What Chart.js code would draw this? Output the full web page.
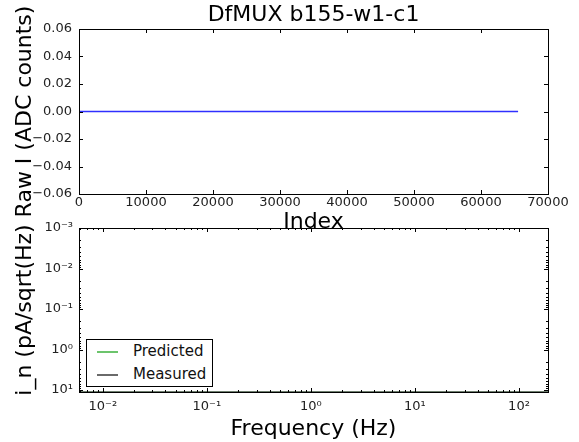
<!DOCTYPE html>
<html>
<head>
<meta charset="utf-8">
<script src="https://cdn.jsdelivr.net/npm/chart.js@4.4.0/dist/chart.umd.min.js"></script>
<style>
  body { margin: 0; background: #fff; }
  #wrap { position: relative; width: 579px; height: 442px; overflow: hidden; font-family: "DejaVu Sans", sans-serif; }
  #top { position: absolute; left: 0; top: 0; }
  #bot { position: absolute; left: 0; top: 212px; }
  #legend { position: absolute; left: 86px; top: 339px; width: 125px; height: 46px; border: 1px solid #000; background: #fff; font-size: 15px; color: #111; }
  #legend .row { position: absolute; left: 0; height: 18px; }
  #legend .sw { position: absolute; left: 10px; top: 9px; width: 21px; height: 0; border-top: 2px solid; }
  #legend .lb { position: absolute; left: 46px; top: 0; white-space: nowrap; line-height: 18px; }
</style>
</head>
<body>
<div id="wrap">
  <canvas id="top" width="579" height="237"></canvas>
  <canvas id="bot" width="579" height="230"></canvas>
  <div id="legend">
    <div class="row" style="top:2px"><span class="sw" style="border-color:#6cc46c"></span><span class="lb">Predicted</span></div>
    <div class="row" style="top:25px"><span class="sw" style="border-color:#6a6a6a"></span><span class="lb">Measured</span></div>
  </div>
</div>
<script>
// ---- data: top panel (raw timestream) ----
const rawIndex = [0, 65535];
const rawCounts = [0, 0];
const rawXTicks = [0, 10000, 20000, 30000, 40000, 50000, 60000, 70000];
const rawYTicks = [-0.06, -0.04, -0.02, 0.0, 0.02, 0.04, 0.06];

// ---- data: bottom panel (noise spectrum) ----
const freqHz = [0.0059, 190];
const predicted = [11.2, 11.2];
const measured = [11.2, 11.2];
const freqTicks = [0.01, 0.1, 1, 10, 100];
const freqTickLabels = ["10\u207B\u00B2", "10\u207B\u00B9", "10\u2070", "10\u00B9", "10\u00B2"];
const noiseTicks = [0.001, 0.01, 0.1, 1, 10];
const noiseTickLabels = ["10\u207B\u00B3", "10\u207B\u00B2", "10\u207B\u00B9", "10\u2070", "10\u00B9"];

const FONT = "'DejaVu Sans', sans-serif";
const tickFont = { family: FONT, size: 13 };
const titleFont = { family: FONT, size: 22 };

// inward tick marks on all four sides + frame, matplotlib style
function minorLogValues(scale) {
  const out = [];
  const lo = Math.floor(Math.log10(scale.min)), hi = Math.ceil(Math.log10(scale.max));
  for (let e = lo; e <= hi; e++) {
    for (let m = 2; m <= 9; m++) {
      const v = m * Math.pow(10, e);
      if (v >= scale.min && v <= scale.max) out.push(v);
    }
  }
  return out;
}
const frameTicks = {
  id: "frameTicks",
  afterDraw(chart) {
    const ctx = chart.ctx, a = chart.chartArea;
    ctx.save();
    ctx.strokeStyle = "#000";
    ctx.lineWidth = 1;
    const xs = chart.scales.x, ys = chart.scales.y;
    const mark = (scale, vals, len) => {
      vals.forEach((v) => {
        const p = Math.round(scale.getPixelForValue(v)) + 0.5;
        ctx.beginPath();
        if (scale.isHorizontal()) {
          ctx.moveTo(p, a.bottom); ctx.lineTo(p, a.bottom - len);
          ctx.moveTo(p, a.top); ctx.lineTo(p, a.top + len);
        } else {
          ctx.moveTo(a.left, p); ctx.lineTo(a.left + len, p);
          ctx.moveTo(a.right, p); ctx.lineTo(a.right - len, p);
        }
        ctx.stroke();
      });
    };
    [xs, ys].forEach((s) => {
      mark(s, s.ticks.map((t) => t.value), 4);
      if (s.type === "logarithmic") mark(s, minorLogValues(s), 2);
    });
    ctx.strokeRect(Math.round(a.left) + 0.5, Math.round(a.top) + 0.5, Math.round(a.right - a.left), Math.round(a.bottom - a.top));
    ctx.restore();
  },
};
// white axes patch over the plot area only (hides what lies beneath, like matplotlib)
const axesPatch = {
  id: "axesPatch",
  beforeDraw(chart) {
    const ctx = chart.ctx, a = chart.chartArea;
    ctx.save();
    ctx.fillStyle = "#fff";
    ctx.fillRect(a.left, a.top, a.right - a.left, a.bottom - a.top);
    ctx.restore();
  },
};
// keep tick labels from pushing the plot area inward
function noOverhang(s) {
  s.paddingTop = 0;
  s.paddingBottom = 0;
  s.paddingLeft = 0;
  s.paddingRight = 0;
}

// top panel
new Chart(document.getElementById("top"), {
  type: "line",
  data: {
    datasets: [
      {
        data: rawIndex.map((x, i) => ({ x: x, y: rawCounts[i] })),
        borderColor: "#3030ff",
        borderWidth: 1.5,
        pointRadius: 0,
        tension: 0,
      },
    ],
  },
  options: {
    responsive: false,
    animation: false,
    events: [],
    layout: { padding: { left: 0, right: 31, top: 0, bottom: 0 } },
    plugins: {
      legend: { display: false },
      tooltip: { enabled: false },
      title: {
        display: true,
        text: "DfMUX b155-w1-c1",
        fullSize: false,
        color: "#000",
        font: { family: FONT, size: 22, weight: "normal" },
        padding: { top: 2, bottom: 0.6 },
      },
    },
    scales: {
      x: {
        type: "linear",
        min: 0,
        max: 70000,
        afterBuildTicks: (s) => { s.ticks = rawXTicks.map((v) => ({ value: v })); },
        afterFit: (s) => { s.height = 43; noOverhang(s); },
        grid: { display: false, drawTicks: false },
        border: { display: false },
        ticks: { font: tickFont, color: "#222", padding: 1, maxRotation: 0, callback: (v) => String(v) },
        title: { display: true, text: "Index", color: "#000", font: titleFont, padding: { top: 0, bottom: 1.4 } },
      },
      y: {
        type: "linear",
        min: -0.06,
        max: 0.06,
        afterBuildTicks: (s) => { s.ticks = rawYTicks.map((v) => ({ value: v })); },
        afterFit: (s) => { s.width = 79; noOverhang(s); },
        grid: { display: false, drawTicks: false },
        border: { display: false },
        ticks: {
          font: tickFont,
          color: "#222",
          padding: 7,
          callback: (v) => (v < 0 ? "\u2212" : "") + Math.abs(v).toFixed(2),
        },
        title: { display: true, text: "Raw I (ADC counts)", color: "#000", font: titleFont, padding: { top: 12, bottom: 0 } },
      },
    },
  },
  plugins: [frameTicks],
});

// bottom panel
new Chart(document.getElementById("bot"), {
  type: "line",
  data: {
    datasets: [
      {
        label: "Measured",
        data: freqHz.map((x, i) => ({ x: x, y: measured[i] })),
        borderColor: "#6a6a6a",
        borderWidth: 1.5,
        pointRadius: 0,
      },
      {
        label: "Predicted",
        data: freqHz.map((x, i) => ({ x: x, y: predicted[i] })),
        borderColor: "#4fa84f",
        borderWidth: 1.5,
        pointRadius: 0,
      },
    ],
  },
  options: {
    responsive: false,
    animation: false,
    events: [],
    layout: { padding: { left: 0, right: 31, top: 16, bottom: 0 } },
    plugins: { legend: { display: false }, tooltip: { enabled: false } },
    scales: {
      x: {
        type: "logarithmic",
        min: 0.0059,
        max: 190,
        afterBuildTicks: (s) => { s.ticks = freqTicks.map((v) => ({ value: v })); },
        afterFit: (s) => { s.height = 50; noOverhang(s); },
        grid: { display: false, drawTicks: false },
        border: { display: false },
        ticks: {
          font: tickFont,
          color: "#222",
          padding: 7,
          maxRotation: 0,
          callback: (v) => freqTickLabels[freqTicks.indexOf(v)],
        },
        title: { display: true, text: "Frequency (Hz)", color: "#000", font: titleFont, padding: { top: 0, bottom: 0 } },
      },
      y: {
        type: "logarithmic",
        reverse: true,
        min: 0.001,
        max: 11.2,
        afterBuildTicks: (s) => { s.ticks = noiseTicks.map((v) => ({ value: v })); },
        afterFit: (s) => { s.width = 79; noOverhang(s); },
        grid: { display: false, drawTicks: false },
        border: { display: false },
        ticks: {
          font: tickFont,
          color: "#222",
          padding: 6,
          callback: (v) => noiseTickLabels[noiseTicks.indexOf(v)],
        },
        title: { display: true, text: "i_n (pA/sqrt(Hz)", color: "#000", font: titleFont, padding: { top: 12, bottom: 0 } },
      },
    },
  },
  plugins: [axesPatch, frameTicks],
});
</script>
</body>
</html>
